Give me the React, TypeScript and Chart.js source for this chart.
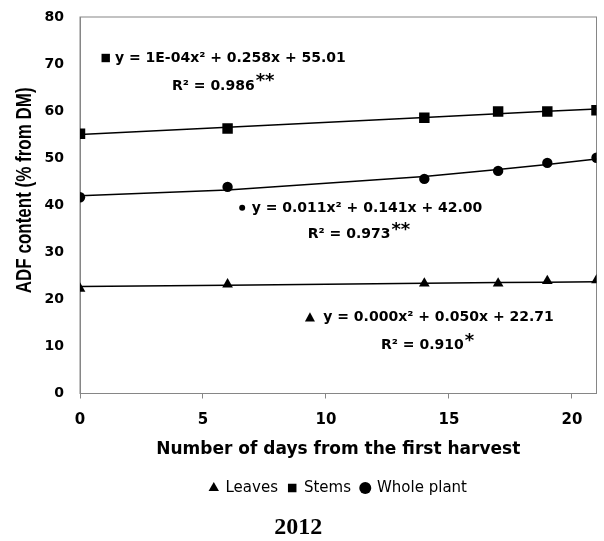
import { useEffect, useRef } from 'react';
import { Chart, registerables } from 'chart.js';

Chart.register(...registerables);

// ---- data ----
const days = [0, 6, 14, 17, 19, 21];
const leaves = [22.3, 23.2, 23.4, 23.4, 23.9, 24.1];
const stems = [55.2, 56.3, 58.6, 59.9, 59.9, 60.2];
const wholePlant = [41.7, 43.9, 45.6, 47.3, 49.0, 50.1];
const seriesNames = ['Leaves', 'Stems', 'Whole plant'];

// quadratic trend coefficients printed on the chart: [a, b, c] for y = a x² + b x + c
const leavesFit = [0.0, 0.05, 22.71];
const stemsFit = [1e-4, 0.258, 55.01];
const wholeFit = [0.011, 0.141, 42.0];

const equations = [
  'y = 0.000x² + 0.050x + 22.71',
  'y = 1E-04x² + 0.258x + 55.01',
  'y = 0.011x² + 0.141x + 42.00',
];
const rSquared = ['R² = 0.910', 'R² = 0.986', 'R² = 0.973'];
const significance = ['*', '**', '**'];

const xTicks = [0, 5, 10, 15, 20];
const yTicks = [0, 10, 20, 30, 40, 50, 60, 70, 80];
const xTitle = 'Number of days from the first harvest';
const yTitle = 'ADF content (% from DM)';
const yearLabel = '2012';

// ---- layout / style (not data) ----
const AXIS_GRAY = '#868686';
const SANS = '"DejaVu Sans", sans-serif';
const noteLayout = [
  { eqX: 9.89, eqY: 16.5, r2X: 12.24, r2Y: 10.5, marker: 'triangle', markerDx: -13.3 },
  { eqX: 1.42, eqY: 71.5, r2X: 3.74, r2Y: 65.6, marker: 'rect', markerDx: -9.2 },
  { eqX: 6.98, eqY: 39.7, r2X: 9.26, r2Y: 34.1, marker: 'dot', markerDx: -9.5 },
];

const evalFit = (c: number[]) => days.map((d) => ({ x: d, y: c[0] * d * d + c[1] * d + c[2] }));
const toPoints = (vals: number[]) => days.map((d, i) => ({ x: d, y: vals[i] }));

const framePlugin = {
  id: 'frame',
  beforeDatasetsDraw(chart: any) {
    const { ctx, chartArea } = chart;
    ctx.save();
    ctx.strokeStyle = AXIS_GRAY;
    ctx.lineWidth = 1;
    ctx.strokeRect(chartArea.left, chartArea.top, chartArea.right - chartArea.left, chartArea.bottom - chartArea.top);
    ctx.restore();
  },
};

const yTitlePlugin = {
  id: 'yTitle',
  afterDraw(chart: any) {
    const { ctx, chartArea } = chart;
    ctx.save();
    ctx.translate(25, (chartArea.top + chartArea.bottom) / 2 - 15);
    ctx.scale(1.25, 1);
    ctx.rotate(-Math.PI / 2);
    ctx.fillStyle = '#000';
    ctx.font = 'bold 17px "Liberation Sans", Arial, sans-serif';
    ctx.textAlign = 'center';
    ctx.textBaseline = 'middle';
    ctx.fillText(yTitle, 0, 0);
    ctx.restore();
  },
};

const notesPlugin = {
  id: 'notes',
  afterDatasetsDraw(chart: any) {
    const { ctx } = chart;
    const x = chart.scales.x;
    const y = chart.scales.y;
    ctx.save();
    ctx.fillStyle = '#000';
    ctx.textAlign = 'left';
    ctx.textBaseline = 'alphabetic';
    noteLayout.forEach((n, i) => {
      const ex = x.getPixelForValue(n.eqX);
      const ey = y.getPixelForValue(n.eqY);
      ctx.font = `bold 14px ${SANS}`;
      ctx.fillText(equations[i], ex, ey + 5);
      const mx = ex + n.markerDx;
      const my = ey + 1;
      ctx.beginPath();
      if (n.marker === 'rect') {
        ctx.rect(mx - 4.2, my - 4.2, 8.4, 8.4);
      } else if (n.marker === 'dot') {
        ctx.arc(mx, my, 3, 0, Math.PI * 2);
      } else {
        ctx.moveTo(mx, my - 4.7);
        ctx.lineTo(mx + 5, my + 4.6);
        ctx.lineTo(mx - 5, my + 4.6);
        ctx.closePath();
      }
      ctx.fill();
      const rx = x.getPixelForValue(n.r2X);
      const ry = y.getPixelForValue(n.r2Y);
      ctx.fillText(rSquared[i], rx, ry + 5);
      const w = ctx.measureText(rSquared[i]).width;
      ctx.font = `bold 18px ${SANS}`;
      ctx.fillText(significance[i], rx + w + 1, ry + 5 - 3.5);
    });
    ctx.restore();
  },
};

export default function App() {
  const canvasRef = useRef<HTMLCanvasElement | null>(null);

  useEffect(() => {
    if (!canvasRef.current) return;
    const markerBase = { backgroundColor: '#000', borderColor: '#000', borderWidth: 0, showLine: false };
    const trendBase = { borderColor: '#000', backgroundColor: '#000', borderWidth: 1.5, pointRadius: 0, showLine: true, tension: 0 };
    const chart = new Chart(canvasRef.current, {
      type: 'scatter',
      data: {
        datasets: [
          { ...markerBase, label: seriesNames[0], data: toPoints(leaves), pointStyle: 'triangle', pointRadius: 6.2 },
          { ...markerBase, label: seriesNames[1], data: toPoints(stems), pointStyle: 'rect', pointRadius: 7.4 },
          { ...markerBase, label: seriesNames[2], data: toPoints(wholePlant), pointStyle: 'circle', pointRadius: 5.2 },
          { ...trendBase, label: 'Leaves trend', data: evalFit(leavesFit) },
          { ...trendBase, label: 'Stems trend', data: evalFit(stemsFit) },
          { ...trendBase, label: 'Whole plant trend', data: evalFit(wholeFit) },
        ] as any,
      },
      options: {
        responsive: false,
        animation: false,
        layout: { padding: { top: 17, right: 7.5, left: 0, bottom: 0 } },
        plugins: {
          legend: {
            position: 'bottom',
            fullSize: false,
            labels: {
              usePointStyle: true,
              boxWidth: 8.5,
              boxHeight: 8.5,
              padding: 10,
              color: '#000',
              font: { family: SANS, size: 15 },
              filter: (it: any) => it.datasetIndex < 3,
            },
          },
          title: {
            display: true,
            position: 'bottom',
            text: yearLabel,
            color: '#000',
            font: { family: '"Liberation Serif", "Times New Roman", serif', size: 24, weight: 'bold', lineHeight: 1 },
            padding: { top: 10.5, bottom: 1 },
          },
          tooltip: { enabled: false },
        },
        scales: {
          x: {
            type: 'linear',
            min: 0,
            max: 21,
            afterBuildTicks: (s: any) => {
              s.ticks = xTicks.map((v) => ({ value: v }));
            },
            afterFit: (s: any) => {
              s.height = 77;
            },
            grid: { drawOnChartArea: false, drawTicks: true, tickLength: 5, color: AXIS_GRAY },
            border: { display: true, color: AXIS_GRAY },
            ticks: { color: '#000', padding: 12.5, maxRotation: 0, autoSkip: false, font: { family: SANS, size: 15, weight: 'bold' } },
            title: {
              display: true,
              text: xTitle,
              color: '#000',
              font: { family: SANS, size: 17, weight: 'bold' },
              padding: { top: 0, bottom: 10.3 },
            },
          },
          y: {
            type: 'linear',
            min: 0,
            max: 80,
            afterBuildTicks: (s: any) => {
              s.ticks = yTicks.map((v) => ({ value: v }));
            },
            afterFit: (s: any) => {
              s.width = 80;
              s.paddingTop = 0;
              s.paddingBottom = 0;
            },
            grid: { display: false, drawTicks: false },
            border: { display: true, color: AXIS_GRAY },
            ticks: { color: '#000', padding: 16, font: { family: SANS, size: 14, weight: 'bold' } },
          },
        },
      } as any,
      plugins: [framePlugin, notesPlugin, yTitlePlugin],
    });
    return () => chart.destroy();
  }, []);

  return (
    <div style={{ position: 'absolute', left: 0, top: 0, width: 604, height: 541, background: '#fff' }}>
      <canvas ref={canvasRef} width={604} height={541} style={{ display: 'block' }} />
    </div>
  );
}
